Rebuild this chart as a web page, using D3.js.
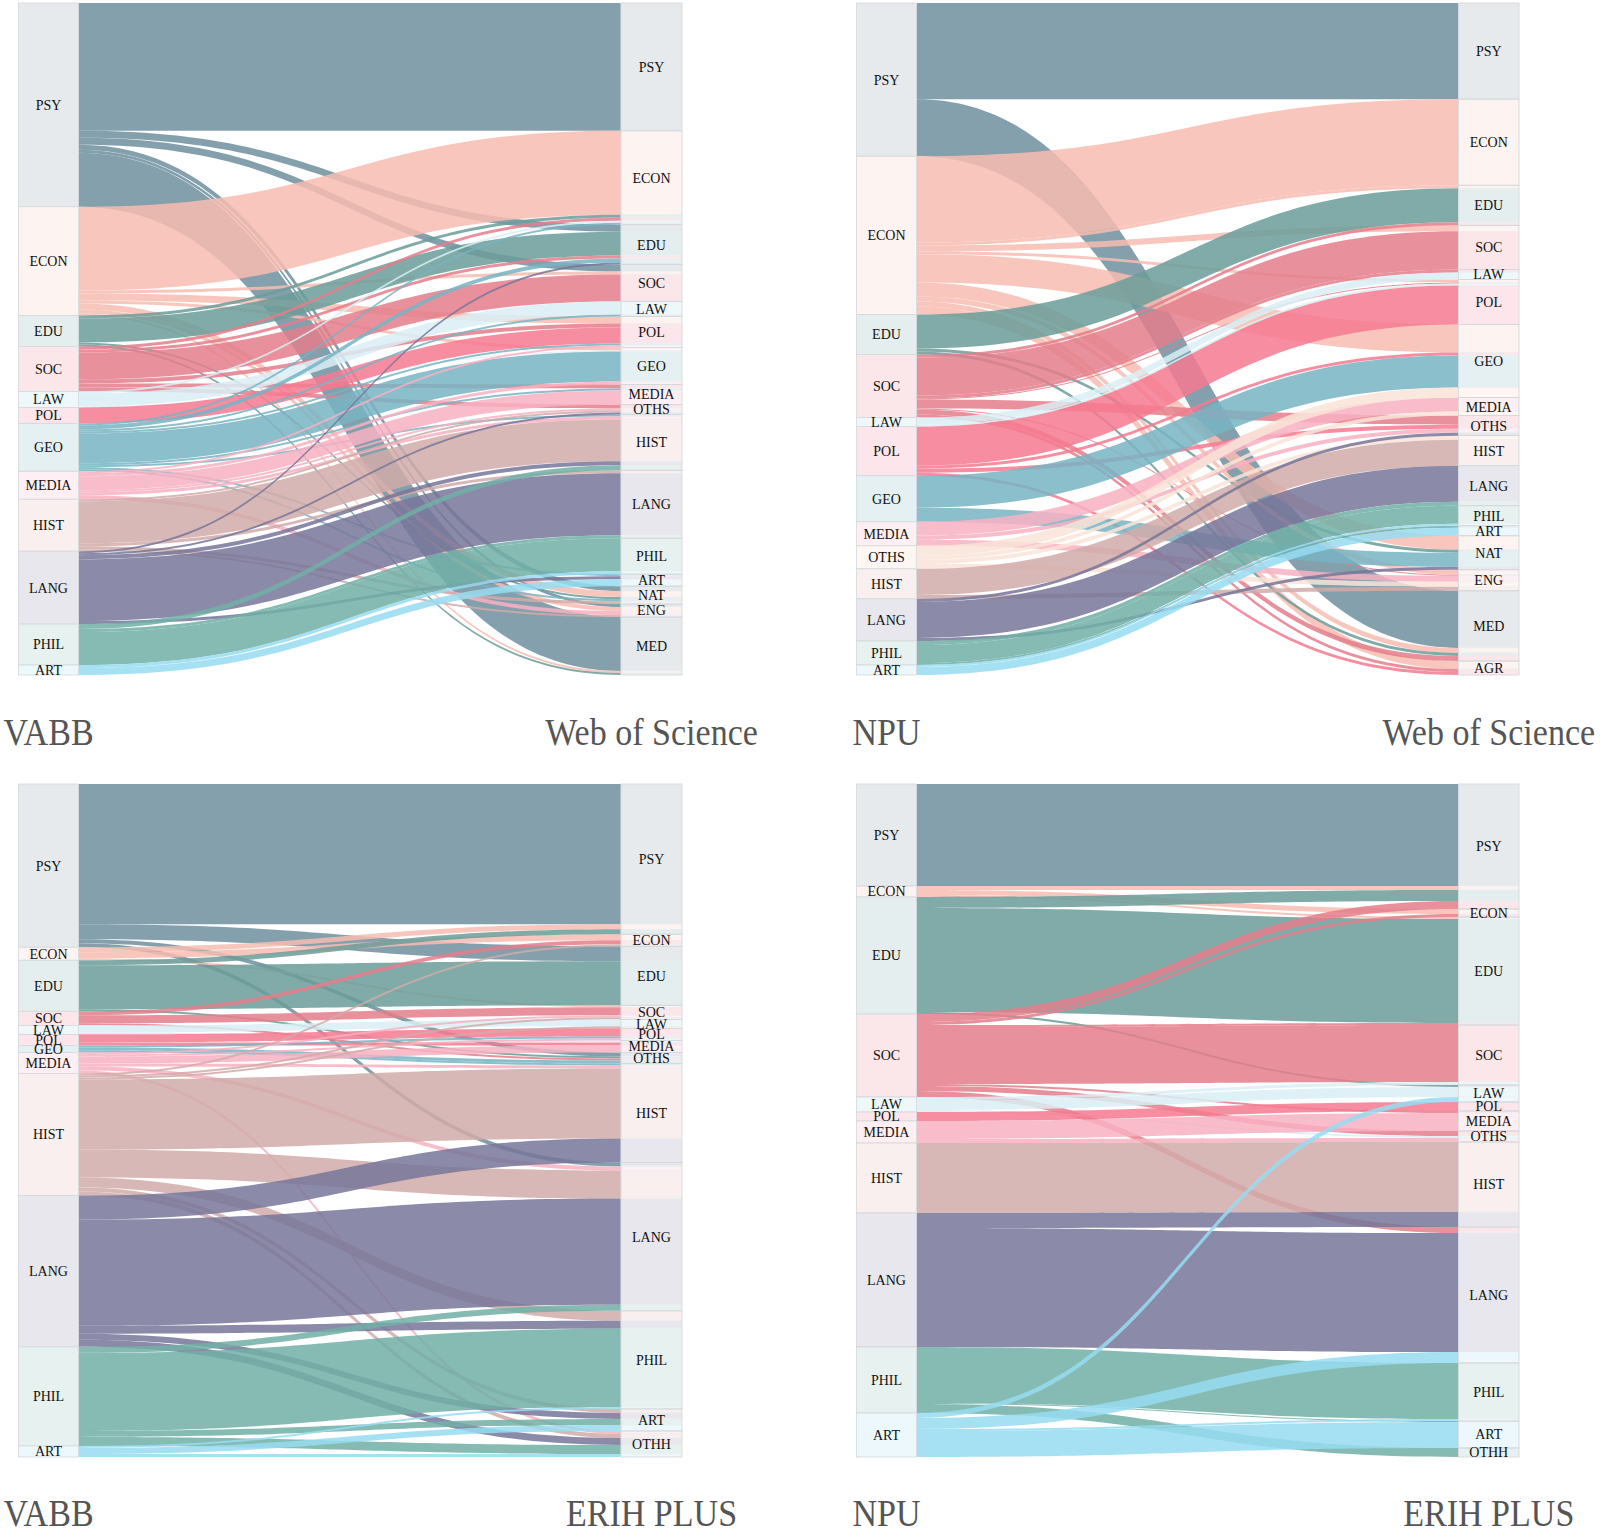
<!DOCTYPE html>
<html><head><meta charset="utf-8">
<script src="https://cdn.jsdelivr.net/npm/d3@7"></script>
<style>body{margin:0;background:#fff} svg{display:block} text{font-family:"Liberation Serif","Times New Roman",Times,serif}</style>
</head><body>
<svg id="chart" width="1600" height="1535"></svg>
<script>
// ---------- categories ----------
const vabbCategories = ["PSY","ECON","EDU","SOC","LAW","POL","GEO","MEDIA","HIST","LANG","PHIL","ART"];
const npuCategories = ["PSY","ECON","EDU","SOC","LAW","POL","GEO","MEDIA","OTHS","HIST","LANG","PHIL","ART"];
const npuErihCategories = ["PSY","ECON","EDU","SOC","LAW","POL","MEDIA","HIST","LANG","PHIL","ART"];
const wosCategories = ["PSY","ECON","EDU","SOC","LAW","POL","GEO","MEDIA","OTHS","HIST","LANG","PHIL","ART","NAT","ENG","MED","AGR"];
const erihCategories = ["PSY","ECON","EDU","SOC","LAW","POL","MEDIA","OTHS","HIST","LANG","PHIL","ART","OTHH"];

// ---------- titles ----------
const leftTitles = ["VABB","NPU","VABB","NPU"];
const rightTitles = ["Web of Science","Web of Science","ERIH PLUS","ERIH PLUS"];

// ---------- flows [source, target, value] ----------
const vabbWosFlows = [
  ["PSY","PSY",128],["PSY","EDU",7],["PSY","SOC",7],["PSY","NAT",5],["PSY","ENG",3],["PSY","MED",54],
  ["ECON","ECON",84],["ECON","SOC",3],["ECON","POL",7],["ECON","GEO",3],["ECON","NAT",6],["ECON","ENG",4],["ECON","MED",2],
  ["EDU","ECON",3],["EDU","EDU",24],["EDU","NAT",2],["EDU","MED",2],
  ["SOC","ECON",3],["SOC","EDU",3],["SOC","SOC",27],["SOC","POL",4],["SOC","MEDIA",4],["SOC","OTHS",4],
  ["LAW","ECON",2],["LAW","LAW",13],["LAW","GEO",1],
  ["POL","POL",16],
  ["GEO","ECON",2],["GEO","EDU",4],["GEO","LAW",2],["GEO","POL",2],["GEO","GEO",30],["GEO","MEDIA",2],["GEO","HIST",2],["GEO","ART",2],["GEO","NAT",2],
  ["MEDIA","POL",2],["MEDIA","GEO",3],["MEDIA","MEDIA",14],["MEDIA","OTHS",2],["MEDIA","HIST",3],["MEDIA","ENG",4],
  ["HIST","OTHS",2],["HIST","HIST",42],["HIST","LANG",3],["HIST","NAT",3],["HIST","ENG",2],
  ["LANG","EDU",2],["LANG","OTHS",2],["LANG","HIST",4],["LANG","LANG",62],["LANG","ART",3],
  ["PHIL","HIST",5],["PHIL","LANG",3],["PHIL","PHIL",33],
  ["ART","PHIL",3],["ART","ART",7]
];
const npuWosFlows = [
  ["PSY","PSY",96],["PSY","MED",57],
  ["ECON","ECON",86],["ECON","EDU",3],["ECON","SOC",6],["ECON","POL",3],["ECON","GEO",28],["ECON","NAT",14],["ECON","ENG",5],["ECON","MED",5],["ECON","AGR",8],
  ["EDU","EDU",34],["EDU","NAT",3],["EDU","MED",3],
  ["SOC","EDU",3],["SOC","SOC",38],["SOC","LAW",3],["SOC","POL",1],["SOC","OTHS",9],["SOC","ENG",1],["SOC","MED",5],["SOC","AGR",3],
  ["LAW","LAW",7],["LAW","POL",2],
  ["POL","POL",39],["POL","GEO",3],["POL","OTHS",4],["POL","AGR",3],
  ["GEO","GEO",32],["GEO","NAT",14],
  ["MEDIA","MEDIA",14],["MEDIA","OTHS",4],["MEDIA","ENG",6],
  ["OTHS","GEO",10],["OTHS","MEDIA",4],["OTHS","HIST",4],["OTHS","ENG",5],
  ["HIST","HIST",26],["HIST","ENG",4],
  ["LANG","OTHS",3],["LANG","LANG",36],["LANG","NAT",3],
  ["PHIL","LANG",4],["PHIL","PHIL",18],["PHIL","ART",2],
  ["ART","PHIL",2],["ART","ART",8]
];
const vabbErihFlows = [
  ["PSY","PSY",140],["PSY","EDU",15],["PSY","OTHS",4],["PSY","LANG",4],
  ["ECON","PSY",5],["ECON","ECON",6],["ECON","SOC",2],
  ["EDU","PSY",5],["EDU","EDU",44],["EDU","OTHS",2],
  ["SOC","ECON",4],["SOC","SOC",8],["SOC","OTHS",2],
  ["LAW","LAW",7],["LAW","MEDIA",2],
  ["POL","POL",8],["POL","MEDIA",3],
  ["GEO","POL",2],["GEO","OTHS",3],["GEO","HIST",2],
  ["MEDIA","SOC",2],["MEDIA","POL",2],["MEDIA","MEDIA",7],["MEDIA","HIST",3],["MEDIA","LANG",4],["MEDIA","OTHH",3],
  ["HIST","ECON",2],["HIST","SOC",2],["HIST","LAW",2],["HIST","HIST",70],["HIST","LANG",28],["HIST","PHIL",10],["HIST","ART",4],["HIST","OTHH",4],
  ["LANG","HIST",24],["LANG","LANG",106],["LANG","PHIL",8],["LANG","ART",6],["LANG","OTHH",7],
  ["PHIL","LANG",6],["PHIL","PHIL",78],["PHIL","ART",6],["PHIL","OTHH",9],
  ["ART","PHIL",2],["ART","ART",6],["ART","OTHH",3]
];
const npuErihFlows = [
  ["PSY","PSY",102],
  ["ECON","PSY",4],["ECON","ECON",5],["ECON","EDU",2],
  ["EDU","PSY",11],["EDU","EDU",104],["EDU","LAW",2],
  ["SOC","PSY",8],["SOC","ECON",3],["SOC","EDU",2],["SOC","SOC",57],["SOC","MEDIA",2],["SOC","OTHS",5],["SOC","LANG",6],
  ["LAW","SOC",3],["LAW","LAW",10],["LAW","OTHS",2],
  ["POL","POL",9],
  ["MEDIA","MEDIA",18],["MEDIA","OTHS",4],
  ["HIST","HIST",70],
  ["LANG","HIST",15],["LANG","LANG",119],
  ["PHIL","PHIL",56],["PHIL","ART",1],["PHIL","OTHH",9],
  ["ART","LAW",5],["ART","LANG",11],["ART","PHIL",2],["ART","ART",26]
];

// ---------- colours ----------
const linkColor = {
  PSY:"#6f8f9f", ECON:"#f7bcb0", EDU:"#6a9c99", SOC:"#e47e8c", LAW:"#d9eff6", POL:"#f67990",
  GEO:"#77b4c3", MEDIA:"#f8b0c2", OTHS:"#f9e4d8", HIST:"#d1aca9", LANG:"#777599", PHIL:"#71afa7", ART:"#96dcf1"
};
const paleColor = {
  PSY:"#e6eaed", ECON:"#fdf3f0", EDU:"#e5eeee", SOC:"#fbe6ea", LAW:"#eef8fb", POL:"#fde6eb",
  GEO:"#e5f0f3", MEDIA:"#fdeff3", OTHS:"#fef6f3", HIST:"#f8efee", LANG:"#e7e7ed", PHIL:"#e7f1f0", ART:"#ecf8fc"
};

// ---------- layout ----------
const panels = [
  {left: vabbCategories, right: wosCategories, flows: vabbWosFlows, xl:[18.5,78.5], xr:[621,682], y:[3,675]},
  {left: npuCategories, right: wosCategories, flows: npuWosFlows, xl:[856.5,916.5], xr:[1458.5,1519], y:[3,675]},
  {left: vabbCategories, right: erihCategories, flows: vabbErihFlows, xl:[18.5,78.5], xr:[621,682], y:[784,1457]},
  {left: npuErihCategories, right: erihCategories, flows: npuErihFlows, xl:[856.5,916.5], xr:[1458.5,1519], y:[784,1457]}
];
const titleY = [745, 745, 1526, 1526];

const svg = d3.select("#chart");

function ribbon(x0, x1, s0, s1, t0, t1) {
  const xm = (x0 + x1) / 2;
  return `M${x0},${s0}C${xm},${s0} ${xm},${t0} ${x1},${t0}L${x1},${t1}C${xm},${t1} ${xm},${s1} ${x0},${s1}Z`;
}

panels.forEach((p, pi) => {
  const g = svg.append("g");
  const links = p.flows.map(([s, t, v]) => ({s, t, v}));
  const total = d3.sum(links, d => d.v);
  const y = d3.scaleLinear().domain([0, total]).range(p.y);
  const x = d3.scaleLinear().domain([0, 1]).range([p.xl[1], p.xr[0]]);

  const leftNodes = [];
  let acc = 0;
  p.left.forEach(c => {
    const v = d3.sum(links.filter(l => l.s === c), l => l.v);
    if (v > 0) { leftNodes.push({c, v0: acc, v1: acc + v}); acc += v; }
  });
  const rightNodes = [];
  acc = 0;
  p.right.forEach(c => {
    const v = d3.sum(links.filter(l => l.t === c), l => l.v);
    if (v > 0) { rightNodes.push({c, v0: acc, v1: acc + v}); acc += v; }
  });
  const li = c => p.left.indexOf(c), ri = c => p.right.indexOf(c);

  leftNodes.forEach(n => {
    let o = n.v0;
    links.filter(l => l.s === n.c).sort((a, b) => ri(a.t) - ri(b.t)).forEach(l => { l.sy0 = o; o += l.v; l.sy1 = o; });
  });
  rightNodes.forEach(n => {
    let o = n.v0;
    links.filter(l => l.t === n.c).sort((a, b) => li(a.s) - li(b.s)).forEach(l => { l.ty0 = o; o += l.v; l.ty1 = o; });
  });

  g.append("g").selectAll("path").data(links).join("path")
    .attr("d", l => ribbon(x(0), x(1), y(l.sy0), y(l.sy1), y(l.ty0), y(l.ty1)))
    .attr("fill", l => linkColor[l.s])
    .attr("fill-opacity", 0.85);

  g.append("g").selectAll("rect").data(leftNodes).join("rect")
    .attr("x", p.xl[0]).attr("width", p.xl[1] - p.xl[0])
    .attr("y", n => y(n.v0)).attr("height", n => y(n.v1) - y(n.v0))
    .attr("fill", n => paleColor[n.c])
    .attr("stroke", "#d4d8db").attr("stroke-width", 0.8);

  g.append("g").selectAll("rect").data(links).join("rect")
    .attr("x", p.xr[0]).attr("width", p.xr[1] - p.xr[0])
    .attr("y", l => y(l.ty0)).attr("height", l => y(l.ty1) - y(l.ty0))
    .attr("fill", l => paleColor[l.s])
    .attr("stroke", "#eceef0").attr("stroke-width", 0.5);
  g.append("g").selectAll("rect").data(rightNodes).join("rect")
    .attr("x", p.xr[0]).attr("width", p.xr[1] - p.xr[0])
    .attr("y", n => y(n.v0)).attr("height", n => y(n.v1) - y(n.v0))
    .attr("fill", "none")
    .attr("stroke", "#d4d8db").attr("stroke-width", 0.8);

  const lab = (nodes, xs) => g.append("g").selectAll("text").data(nodes).join("text")
    .attr("x", (xs[0] + xs[1]) / 2)
    .attr("y", n => (y(n.v0) + y(n.v1)) / 2)
    .attr("dy", "0.35em")
    .attr("text-anchor", "middle")
    .attr("font-size", 14)
    .attr("fill", "#111")
    .text(n => n.c);
  lab(leftNodes, p.xl);
  lab(rightNodes, p.xr);

  const title = (txt, cx) => g.append("text")
    .attr("transform", `translate(${cx},${titleY[pi]}) scale(0.92,1)`)
    .attr("text-anchor", "middle")
    .attr("font-size", 37)
    .attr("fill", "#555")
    .text(txt);
  title(leftTitles[pi], (p.xl[0] + p.xl[1]) / 2);
  title(rightTitles[pi], (p.xr[0] + p.xr[1]) / 2);
});
</script>
</body></html>
